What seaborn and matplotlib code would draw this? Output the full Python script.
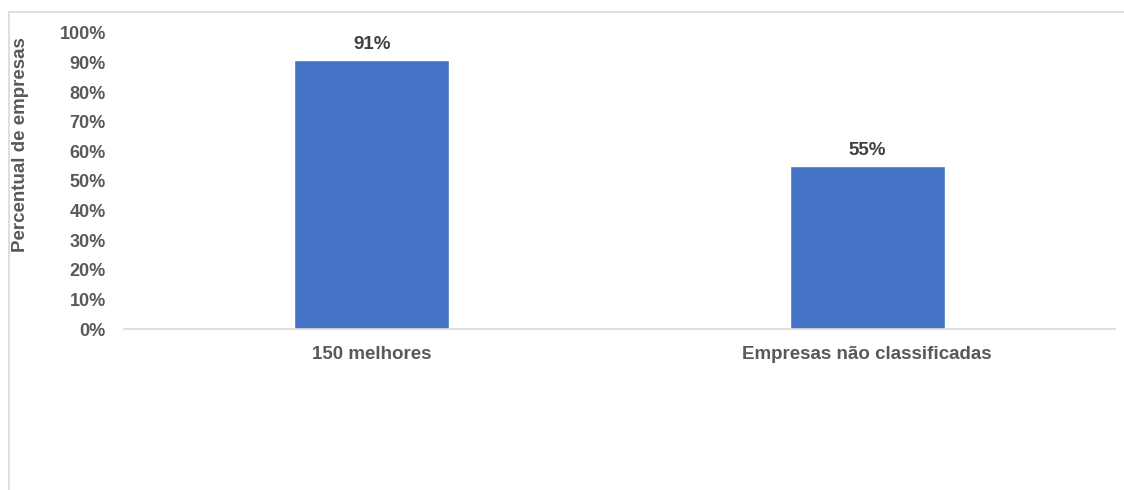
import matplotlib
matplotlib.use("Agg")
import matplotlib.pyplot as plt
from matplotlib.lines import Line2D
import seaborn as sns
import pandas as pd

categories = ["150 melhores", "Empresas não classificadas"]
values = [0.91, 0.55]
value_labels = ["91%", "55%"]
y_ticks = [0.0, 0.1, 0.2, 0.3, 0.4, 0.5, 0.6, 0.7, 0.8, 0.9, 1.0]
y_tick_labels = ["0%", "10%", "20%", "30%", "40%", "50%", "60%", "70%", "80%", "90%", "100%"]
y_title = "Percentual de empresas"

sns.set_theme(style="white")
plt.rcParams["font.family"] = ["Liberation Sans", "DejaVu Sans"]

W, H = 1124, 490
fig = plt.figure(figsize=(W / 100, H / 100), dpi=100)
ax = fig.add_axes([124 / W, 1 - 329 / H, (1115 - 124) / W, (329 - 33) / H])

df = pd.DataFrame({"categoria": categories, "valor": values})
sns.barplot(data=df, x="categoria", y="valor", color="#4472C4", saturation=1,
            width=0.312, ax=ax)

ax.set_xlim(-0.5, 1.5)
ax.set_ylim(0, 1.0)
ax.set_yticks(y_ticks)
ax.set_yticklabels(y_tick_labels)
ax.set_xlabel("")
ax.set_ylabel("")

for s in ["top", "right", "left"]:
    ax.spines[s].set_visible(False)
ax.spines["bottom"].set_color("#d9d9d9")
ax.spines["bottom"].set_linewidth(1.2)
ax.tick_params(axis="both", length=0, colors="#595959")
ax.tick_params(axis="y", pad=13, labelsize=13)
ax.tick_params(axis="x", pad=12, labelsize=13.5)
for lab in ax.get_xticklabels() + ax.get_yticklabels():
    lab.set_fontweight("bold")
    lab.set_color("#595959")

for patch, txt in zip(ax.patches, value_labels):
    cx = patch.get_x() + patch.get_width() / 2
    ax.annotate(txt, (cx, patch.get_height()), xytext=(0, 5), textcoords="offset points",
                ha="center", va="bottom", fontsize=13.5, fontweight="bold", color="#404040")

fig.text(21 / W, 1 - 145 / H, y_title, rotation=90, ha="center", va="center",
         fontsize=13.5, fontweight="bold", color="#595959")

# chart-area frame (top and left edges visible)
fig.add_artist(Line2D([9 / W, 1.0], [1 - 12.5 / H, 1 - 12.5 / H], transform=fig.transFigure,
                      color="#d9d9d9", linewidth=1.2))
fig.add_artist(Line2D([9 / W, 9 / W], [0.0, 1 - 12.5 / H], transform=fig.transFigure,
                      color="#d9d9d9", linewidth=1.2))

fig.savefig("out.png", dpi=100, facecolor="white")
